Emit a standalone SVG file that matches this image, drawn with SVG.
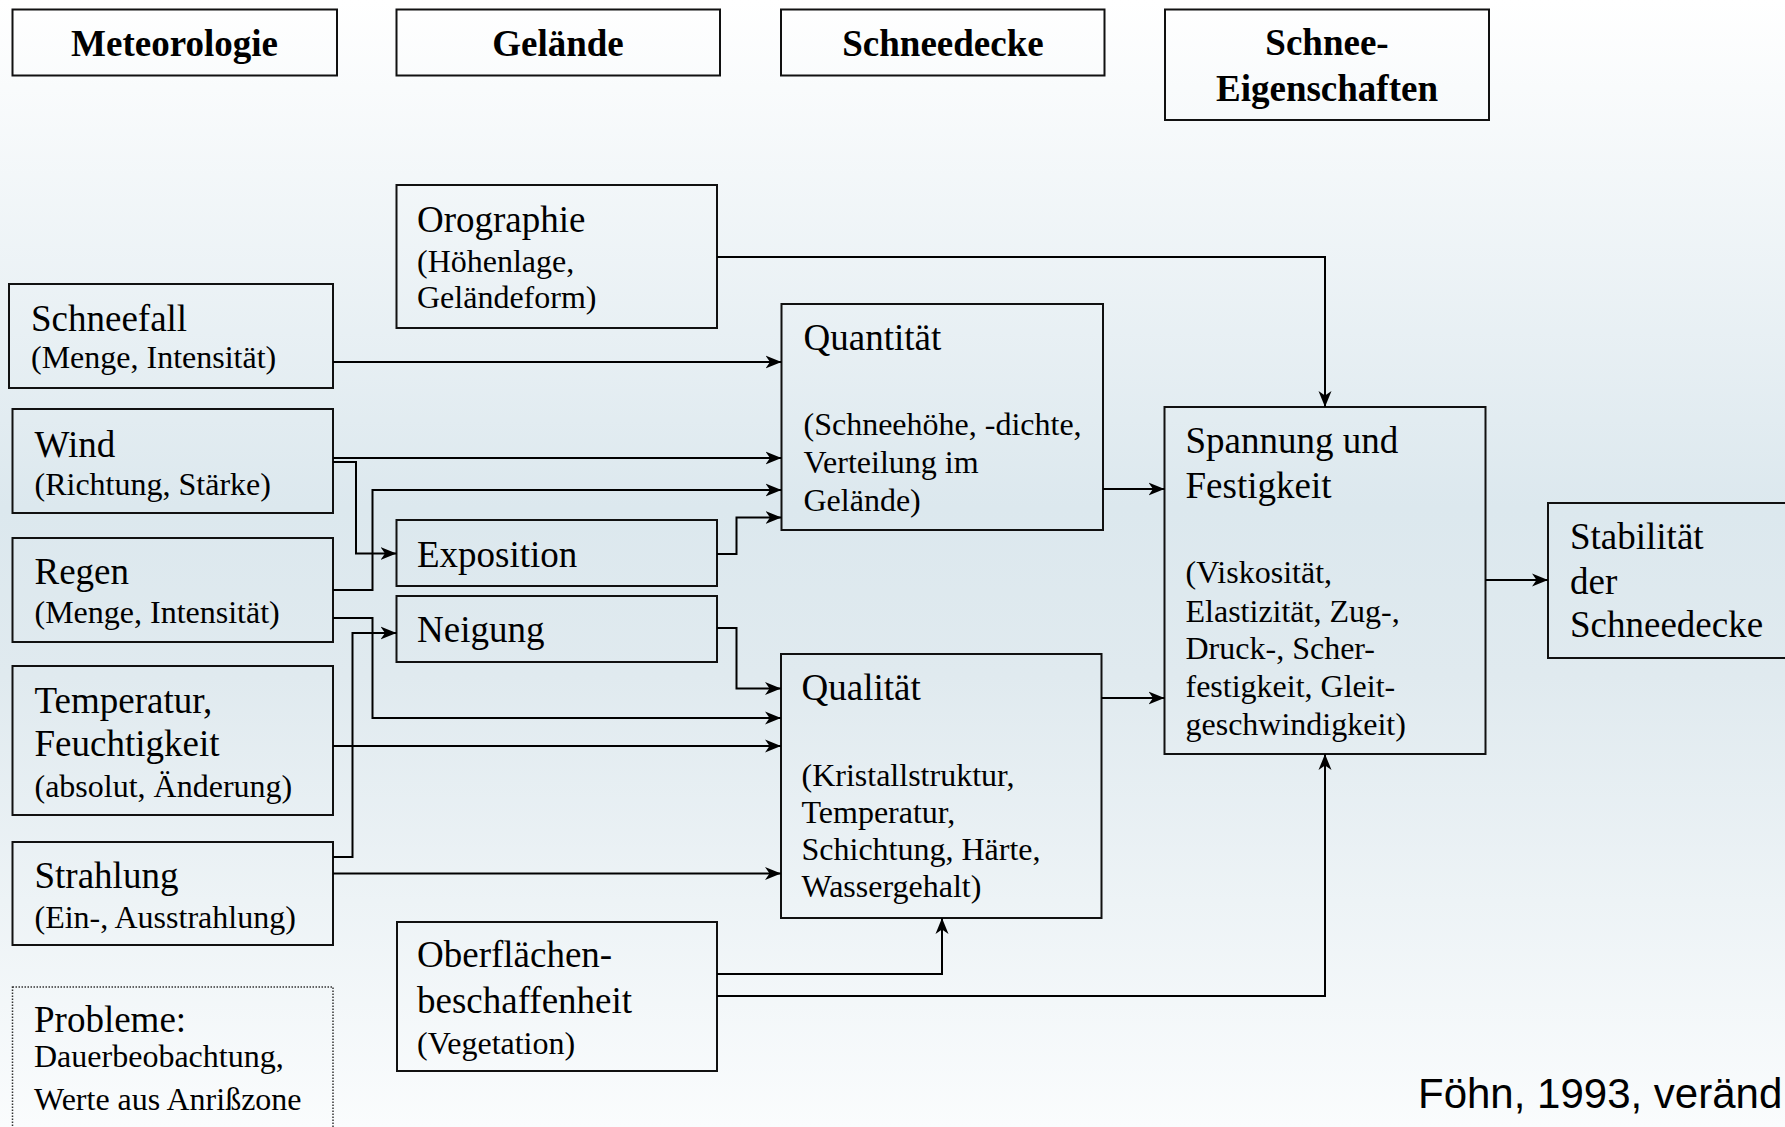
<svg xmlns="http://www.w3.org/2000/svg" width="1785" height="1127" viewBox="0 0 1785 1127">
<defs>
<linearGradient id="bg" x1="0" y1="0" x2="0" y2="1">
<stop offset="0" stop-color="#ffffff"/>
<stop offset="0.45" stop-color="#dce8ee"/>
<stop offset="0.6" stop-color="#e0eaef"/>
<stop offset="1" stop-color="#fafcfd"/>
</linearGradient>
<marker id="arr" viewBox="0 0 16 14" refX="16" refY="7" markerWidth="16" markerHeight="14" markerUnits="userSpaceOnUse" orient="auto">
<path d="M0,0.5 L16,7 L0,13.5 L4.5,7 Z" fill="#000"/>
</marker>
<style>
.box{fill:none;stroke:#111;stroke-width:2}
.dot{fill:none;stroke:#333;stroke-width:1.5;stroke-dasharray:1.5 1.5}
.hd{font-family:"Liberation Serif","Times New Roman",serif;font-weight:bold;font-size:37px;fill:#000;text-anchor:middle}
.t{font-family:"Liberation Serif","Times New Roman",serif;font-size:37px;fill:#000}
.s{font-family:"Liberation Serif","Times New Roman",serif;font-size:32px;fill:#000}
.src{font-family:"Liberation Sans",Arial,sans-serif;font-size:42px;fill:#000}
.c{fill:none;stroke:#000;stroke-width:2;marker-end:url(#arr)}
</style>
</defs>
<rect x="0" y="0" width="1785" height="1127" fill="url(#bg)"/>

<g id="h-meteorologie"><rect class="box" x="12.5" y="9.5" width="324.5" height="66"/><text class="hd" x="174.5" y="56">Meteorologie</text></g>
<g id="h-gelaende"><rect class="box" x="396.5" y="9.5" width="323.5" height="66"/><text class="hd" x="558" y="56">Gelände</text></g>
<g id="h-schneedecke"><rect class="box" x="781" y="9.5" width="323.5" height="66"/><text class="hd" x="943" y="56">Schneedecke</text></g>
<g id="h-eigenschaften"><rect class="box" x="1165" y="9.5" width="324" height="110.5"/><text class="hd" x="1327" y="55">Schnee-</text><text class="hd" x="1327" y="101">Eigenschaften</text></g>

<g id="orographie"><rect class="box" x="396.5" y="185" width="320.5" height="143"/><text class="t" x="417" y="232">Orographie</text><text class="s" x="417" y="272">(Höhenlage,</text><text class="s" x="417" y="308">Geländeform)</text></g>
<g id="schneefall"><rect class="box" x="9" y="284" width="324" height="104"/><text class="t" x="31" y="331">Schneefall</text><text class="s" x="31" y="368">(Menge, Intensität)</text></g>
<g id="wind"><rect class="box" x="12.5" y="409" width="320.5" height="104"/><text class="t" x="34.5" y="456.5">Wind</text><text class="s" x="34.5" y="495">(Richtung, Stärke)</text></g>
<g id="regen"><rect class="box" x="12.5" y="538" width="320.5" height="104"/><text class="t" x="34.5" y="584">Regen</text><text class="s" x="34.5" y="623">(Menge, Intensität)</text></g>
<g id="temperatur"><rect class="box" x="12.5" y="666" width="320.5" height="149"/><text class="t" x="34.5" y="712.5">Temperatur,</text><text class="t" x="34.5" y="756">Feuchtigkeit</text><text class="s" x="34.5" y="796.5">(absolut, Änderung)</text></g>
<g id="strahlung"><rect class="box" x="12.5" y="842" width="320.5" height="103"/><text class="t" x="34.5" y="888">Strahlung</text><text class="s" x="34.5" y="928">(Ein-, Ausstrahlung)</text></g>
<g id="probleme"><rect class="dot" x="12.5" y="987" width="320.5" height="160"/><text class="t" x="34" y="1031.5">Probleme:</text><text class="s" x="34" y="1066.5">Dauerbeobachtung,</text><text class="s" x="34" y="1110">Werte aus Anrißzone</text></g>

<g id="exposition"><rect class="box" x="396.5" y="520" width="320.5" height="66"/><text class="t" x="417" y="566.5">Exposition</text></g>
<g id="neigung"><rect class="box" x="396.5" y="596" width="320.5" height="66"/><text class="t" x="417" y="642">Neigung</text></g>
<g id="oberflaeche"><rect class="box" x="397" y="922" width="320" height="149"/><text class="t" x="417" y="966.5">Oberflächen-</text><text class="t" x="417" y="1013">beschaffenheit</text><text class="s" x="417" y="1054">(Vegetation)</text></g>

<g id="quantitaet"><rect class="box" x="781.5" y="304" width="321.5" height="226"/><text class="t" x="803.5" y="350">Quantität</text><text class="s" x="803.5" y="435">(Schneehöhe, -dichte,</text><text class="s" x="803.5" y="473">Verteilung im</text><text class="s" x="803.5" y="510.5">Gelände)</text></g>
<g id="qualitaet"><rect class="box" x="781" y="654" width="320.5" height="264"/><text class="t" x="801.5" y="700">Qualität</text><text class="s" x="801.5" y="786">(Kristallstruktur,</text><text class="s" x="801.5" y="822.5">Temperatur,</text><text class="s" x="801.5" y="860">Schichtung, Härte,</text><text class="s" x="801.5" y="897">Wassergehalt)</text></g>
<g id="spannung"><rect class="box" x="1164.5" y="407" width="321" height="347"/><text class="t" x="1185.5" y="453">Spannung und</text><text class="t" x="1185.5" y="498">Festigkeit</text><text class="s" x="1185.5" y="583">(Viskosität,</text><text class="s" x="1185.5" y="621.5">Elastizität, Zug-,</text><text class="s" x="1185.5" y="659">Druck-, Scher-</text><text class="s" x="1185.5" y="696.5">festigkeit, Gleit-</text><text class="s" x="1185.5" y="735">geschwindigkeit)</text></g>
<g id="stabilitaet"><rect class="box" x="1548" y="503" width="260" height="155"/><text class="t" x="1570" y="549">Stabilität</text><text class="t" x="1570" y="594">der</text><text class="t" x="1570" y="637">Schneedecke</text></g>

<text class="src" x="1418" y="1108">Föhn, 1993, veränd</text>

<g id="connectors">
<path class="c" d="M333,362 H781.5"/>
<path class="c" d="M333,458 H781.5"/>
<path class="c" d="M333,462 H356 V553.5 H396.5"/>
<path class="c" d="M333,590 H372.5 V490 H781.5"/>
<path class="c" d="M717,554 H736.5 V517.5 H781.5"/>
<path class="c" d="M333,618 H372.5 V718 H781"/>
<path class="c" d="M333,857 H352.5 V633 H396.5"/>
<path class="c" d="M717,628 H736.5 V688.5 H781"/>
<path class="c" d="M333,746 H781"/>
<path class="c" d="M333,873.5 H781"/>
<path class="c" d="M717,974 H942 V918"/>
<path class="c" d="M717,996 H1325 V754"/>
<path class="c" d="M717,257 H1325 V407"/>
<path class="c" d="M1103,489 H1164.5"/>
<path class="c" d="M1101.5,698 H1164.5"/>
<path class="c" d="M1485.5,580 H1548"/>
</g>
</svg>
